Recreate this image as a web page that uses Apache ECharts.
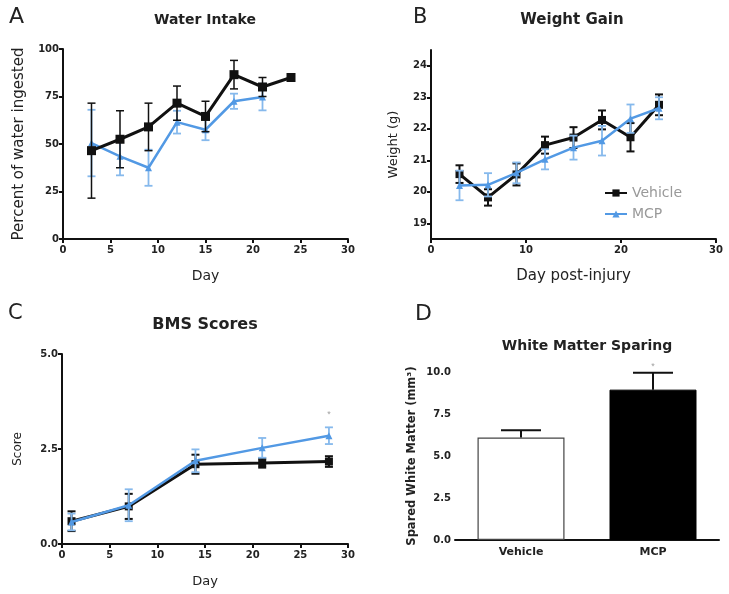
<!DOCTYPE html>
<html><head><meta charset="utf-8">
<script src="https://cdn.jsdelivr.net/npm/echarts@6/dist/echarts.min.js"></script>
<style>html,body{margin:0;padding:0;background:#fff}#c{width:729px;height:594px}</style>
</head><body><div id="c"></div>
<script>
// Panel A: Water intake
const daysA = [3, 6, 9, 12, 15, 18, 21, 24];
const vehA = [46.5, 52.5, 59, 71.5, 64.5, 86.5, 80, 85];
const vehAErr = [25, 15, 12.5, 9, 8, 7.5, 5, 0];
const daysAmcp = [3, 6, 9, 12, 15, 18, 21];
const mcpA = [50.5, 43.5, 37.5, 61.5, 57.5, 72.5, 74.7];
const mcpAErr = [17.5, 10, 9.5, 6, 5.5, 4, 7];
// Panel B: Weight gain
const daysB = [3, 6, 9, 12, 15, 18, 21, 24];
const vehB = [20.56, 19.82, 20.55, 21.48, 21.72, 22.28, 21.73, 22.76];
const vehBErr = [0.28, 0.26, 0.35, 0.27, 0.33, 0.3, 0.45, 0.33];
const mcpB = [20.2, 20.22, 20.6, 21.03, 21.4, 21.62, 22.32, 22.65];
const mcpBErr = [0.47, 0.37, 0.33, 0.32, 0.38, 0.47, 0.45, 0.35];
const ticksB = [19, 20, 21, 22, 23, 24];
// Panel C: BMS scores
const daysC = [1, 7, 14, 21, 28];
const vehC = [0.6, 0.99, 2.1, 2.13, 2.17];
const vehCErr = [0.26, 0.33, 0.25, 0.12, 0.14];
const mcpC = [0.58, 1.02, 2.19, 2.53, 2.85];
const mcpCErr = [0.22, 0.42, 0.3, 0.26, 0.22];
const starC = [[28, 3.4]];
// Panel D: White matter sparing
const groupsD = ['Vehicle', 'MCP'];
const valD = [6.1, 8.95];
const errD = [0.43, 1.0];
const starD = [[1, 10.3]];

const BLACK = '#111111';
const BLUE = '#5299e4';
const BLUE_ERR = '#86b9ec';
const FONT = '"DejaVu Sans", Verdana, sans-serif';

function zip3(xs, ys, es) { return xs.map((x, i) => [x, ys[i], es[i]]); }
function zip2(xs, ys) { return xs.map((x, i) => [x, ys[i]]); }

function errRender(color, capHalf, lw, upOnly) {
  return function (params, api) {
    const x = api.value(0), y = api.value(1), e = api.value(2);
    if (!e) return null;
    const top = api.coord([x, y + e]);
    const bot = upOnly ? api.coord([x, y]) : api.coord([x, y - e]);
    const st = { stroke: color, lineWidth: lw };
    const ch = [
      { type: 'line', shape: { x1: top[0], y1: top[1], x2: bot[0], y2: bot[1] }, style: st },
      { type: 'line', shape: { x1: top[0] - capHalf, y1: top[1], x2: top[0] + capHalf, y2: top[1] }, style: st }
    ];
    if (!upOnly) ch.push({ type: 'line', shape: { x1: bot[0] - capHalf, y1: bot[1], x2: bot[0] + capHalf, y2: bot[1] }, style: st });
    return { type: 'group', children: ch };
  };
}

const axisLine = { lineStyle: { color: BLACK, width: 2 } };
const axisTick = { lineStyle: { color: BLACK, width: 2 }, length: 4 };
const axisLabel = { color: '#222', fontFamily: FONT, fontWeight: 'bold', fontSize: 10, margin: 4 };
function nameStyle(size, bold) { return { color: '#222', fontFamily: FONT, fontSize: size, fontWeight: bold ? 'bold' : 'normal' }; }

function valX(idx, max, interval, name, gap, size) {
  return { type: 'value', gridIndex: idx, min: 0, max: max, interval: interval, splitLine: { show: false },
    axisLine: axisLine, axisTick: axisTick, axisLabel: Object.assign({}, axisLabel, { margin: 6 }),
    name: name, nameLocation: 'middle', nameGap: gap, nameTextStyle: nameStyle(size) };
}

const option = {
  animation: false,
  backgroundColor: '#fff',
  grid: [
    { left: 63, top: 49, width: 285, height: 190 },
    { left: 431, top: 50, width: 285, height: 189 },
    { left: 62, top: 354, width: 286, height: 190 },
    { left: 455, top: 372, width: 264, height: 168 }
  ],
  xAxis: [
    valX(0, 30, 5, 'Day', 30, 14),
    valX(1, 30, 10, 'Day post-injury', 30, 15),
    valX(2, 30, 5, 'Day', 31, 13),
    { type: 'category', gridIndex: 3, data: groupsD, axisLine: axisLine, axisTick: { show: false },
      axisLabel: Object.assign({}, axisLabel, { margin: 7, fontSize: 11 }) }
  ],
  yAxis: [
    { type: 'value', gridIndex: 0, min: 0, max: 100, interval: 25, splitLine: { show: false },
      axisLine: axisLine, axisTick: axisTick, axisLabel: axisLabel,
      name: 'Percent of water ingested', nameLocation: 'middle', nameGap: 36, nameTextStyle: nameStyle(15) },
    { type: 'value', gridIndex: 1, min: 18.5, max: 24.5, splitLine: { show: false },
      axisLine: axisLine,
      axisTick: Object.assign({}, axisTick, { customValues: ticksB }),
      axisLabel: Object.assign({}, axisLabel, { customValues: ticksB }),
      name: 'Weight (g)', nameLocation: 'middle', nameGap: 31, nameTextStyle: nameStyle(13) },
    { type: 'value', gridIndex: 2, min: 0, max: 5, interval: 2.5, splitLine: { show: false },
      axisLine: axisLine, axisTick: axisTick,
      axisLabel: Object.assign({}, axisLabel, { formatter: v => v.toFixed(1) }),
      name: 'Score', nameLocation: 'middle', nameGap: 38, nameTextStyle: nameStyle(12) },
    { type: 'value', gridIndex: 3, min: 0, max: 10, interval: 2.5, splitLine: { show: false },
      axisLine: axisLine, axisTick: axisTick,
      axisLabel: Object.assign({}, axisLabel, { formatter: v => v.toFixed(1) }),
      name: 'Spared White Matter (mm³)', nameLocation: 'middle', nameGap: 37,
      nameTextStyle: nameStyle(11.5, true) }
  ],
  legend: {
    data: ['Vehicle', 'MCP'], orient: 'vertical', left: 599, top: 181, itemGap: 7,
    itemWidth: 22, itemHeight: 9,
    textStyle: { color: '#999', fontFamily: FONT, fontSize: 14 }
  },
  graphic: [
    { type: 'text', left: 9, top: 6, style: { text: 'A', font: '22px ' + FONT, fill: '#222' } },
    { type: 'text', left: 413, top: 7, style: { text: 'B', font: '21px ' + FONT, fill: '#222' } },
    { type: 'text', left: 8, top: 303, style: { text: 'C', font: '21px ' + FONT, fill: '#222' } },
    { type: 'text', left: 415, top: 303, style: { text: 'D', font: '22px ' + FONT, fill: '#222' } },
    { type: 'text', x: 205, y: 20, style: { text: 'Water Intake', font: 'bold 14px ' + FONT, fill: '#222', textAlign: 'center', textVerticalAlign: 'middle' } },
    { type: 'text', x: 572, y: 20, style: { text: 'Weight Gain', font: 'bold 15px ' + FONT, fill: '#222', textAlign: 'center', textVerticalAlign: 'middle' } },
    { type: 'text', x: 205, y: 325, style: { text: 'BMS Scores', font: 'bold 16px ' + FONT, fill: '#222', textAlign: 'center', textVerticalAlign: 'middle' } },
    { type: 'text', x: 587, y: 346, style: { text: 'White Matter Sparing', font: 'bold 14px ' + FONT, fill: '#222', textAlign: 'center', textVerticalAlign: 'middle' } }
  ],
  series: [
    // Panel A
    { type: 'custom', xAxisIndex: 0, yAxisIndex: 0, renderItem: errRender(BLUE_ERR, 4, 1.8), data: zip3(daysAmcp, mcpA, mcpAErr), z: 2 },
    { type: 'line', name: 'MCP', xAxisIndex: 0, yAxisIndex: 0, data: zip2(daysAmcp, mcpA), symbol: 'triangle', symbolSize: 7,
      lineStyle: { color: BLUE, width: 2.5 }, itemStyle: { color: BLUE }, z: 3 },
    { type: 'custom', xAxisIndex: 0, yAxisIndex: 0, renderItem: errRender(BLACK, 4, 1.5), data: zip3(daysA, vehA, vehAErr), z: 4 },
    { type: 'line', name: 'Vehicle', xAxisIndex: 0, yAxisIndex: 0, data: zip2(daysA, vehA), symbol: 'rect', symbolSize: 9,
      lineStyle: { color: BLACK, width: 3 }, itemStyle: { color: BLACK }, z: 5 },
    // Panel B
    { type: 'custom', xAxisIndex: 1, yAxisIndex: 1, renderItem: errRender(BLACK, 4, 2), data: zip3(daysB, vehB, vehBErr), z: 2 },
    { type: 'line', name: 'Vehicle', xAxisIndex: 1, yAxisIndex: 1, data: zip2(daysB, vehB), symbol: 'rect', symbolSize: 8,
      lineStyle: { color: BLACK, width: 3 }, itemStyle: { color: BLACK }, z: 3 },
    { type: 'custom', xAxisIndex: 1, yAxisIndex: 1, renderItem: errRender(BLUE_ERR, 4, 1.8), data: zip3(daysB, mcpB, mcpBErr), z: 4 },
    { type: 'line', name: 'MCP', xAxisIndex: 1, yAxisIndex: 1, data: zip2(daysB, mcpB), symbol: 'triangle', symbolSize: 7,
      lineStyle: { color: BLUE, width: 2.5 }, itemStyle: { color: BLUE }, z: 5 },
    // Panel C
    { type: 'custom', xAxisIndex: 2, yAxisIndex: 2, renderItem: errRender(BLACK, 4, 2), data: zip3(daysC, vehC, vehCErr), z: 2 },
    { type: 'line', name: 'Vehicle', xAxisIndex: 2, yAxisIndex: 2, data: zip2(daysC, vehC), symbol: 'rect', symbolSize: 8,
      lineStyle: { color: BLACK, width: 3 }, itemStyle: { color: BLACK }, z: 3 },
    { type: 'custom', xAxisIndex: 2, yAxisIndex: 2, renderItem: errRender(BLUE_ERR, 4, 1.8), data: zip3(daysC, mcpC, mcpCErr), z: 4 },
    { type: 'line', name: 'MCP', xAxisIndex: 2, yAxisIndex: 2, data: zip2(daysC, mcpC), symbol: 'triangle', symbolSize: 7,
      lineStyle: { color: BLUE, width: 2.5 }, itemStyle: { color: BLUE }, z: 5 },
    { type: 'scatter', xAxisIndex: 2, yAxisIndex: 2, data: starC, symbolSize: 0, clip: false,
      label: { show: true, formatter: '*', color: '#888', fontSize: 9, position: 'inside' }, z: 6 },
    // Panel D
    { type: 'bar', xAxisIndex: 3, yAxisIndex: 3, barWidth: 87,
      data: [
        { value: valD[0], itemStyle: { color: '#fff', borderColor: '#444', borderWidth: 1.2 } },
        { value: valD[1], itemStyle: { color: '#000', borderColor: '#000', borderWidth: 1 } }
      ], z: 2 },
    { type: 'custom', xAxisIndex: 3, yAxisIndex: 3, renderItem: errRender(BLACK, 20, 2, true),
      data: groupsD.map((g, i) => [i, valD[i], errD[i]]), z: 3 },
    { type: 'scatter', xAxisIndex: 3, yAxisIndex: 3, data: starD, symbolSize: 0, clip: false,
      label: { show: true, formatter: '*', color: '#888', fontSize: 9, position: 'inside' }, z: 6 }
  ]
};

const chart = echarts.init(document.getElementById('c'), null, { renderer: 'canvas' });
chart.setOption(option);
</script>
</body></html>
